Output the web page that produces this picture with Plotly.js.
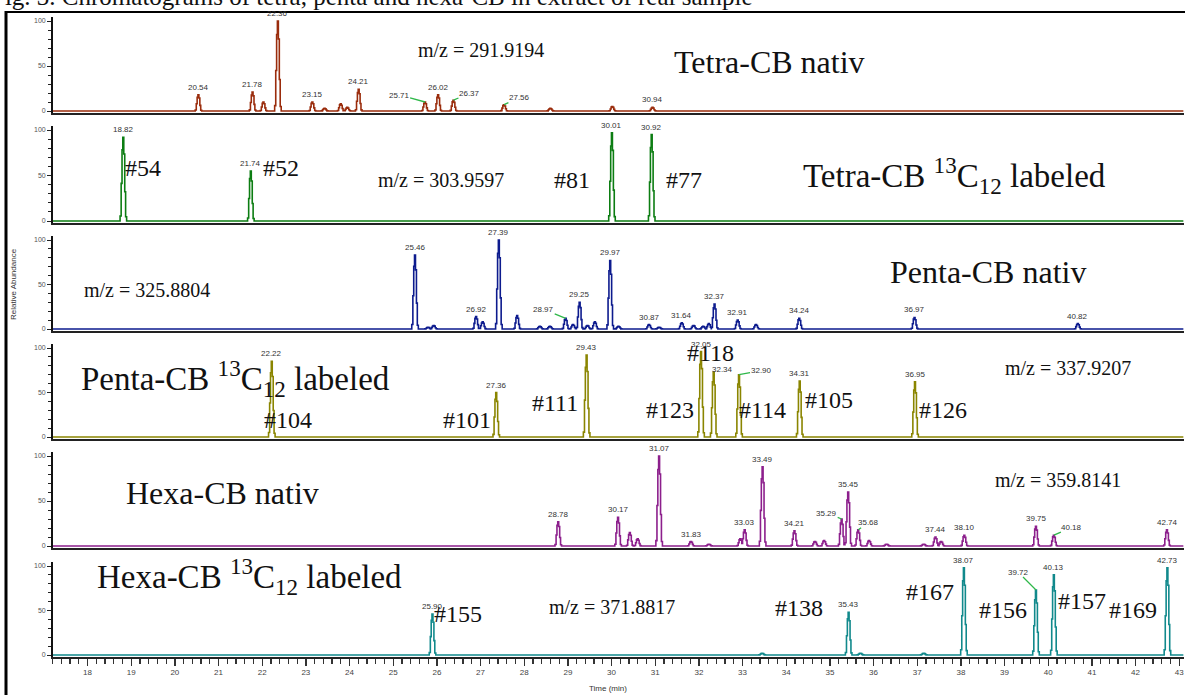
<!DOCTYPE html>
<html><head><meta charset="utf-8">
<script src="https://cdn.plot.ly/plotly-3.0.1.min.js"></script>
<style>html,body{margin:0;padding:0;background:#fff}#chart{width:1185px;height:695px}</style>
</head><body><div id="chart"></div>
<script>
// ---------------- DATA (retention time in min, relative abundance %) ----------------
const tetraNativRT = [20.54, 21.78, 22.03, 22.36, 23.15, 23.43, 23.80, 23.95, 24.21, 25.73, 26.03, 26.38, 27.54, 28.60, 30.02, 30.94];
const tetraNativH  = [18, 21, 10, 100, 10, 3, 8, 4, 24, 10, 18, 12, 7, 3, 5, 4];

const tetraLabRT = [18.82, 21.74, 30.01, 30.92];
const tetraLabH  = [92, 55, 97, 95];

const pentaNativRT = [25.50, 25.80, 25.93, 26.90, 27.05, 27.42, 27.84, 28.36, 28.59, 28.95, 29.12, 29.27, 29.45, 29.62, 29.97, 30.16, 30.86, 31.09, 31.61, 31.88, 32.10, 32.23, 32.36, 32.89, 33.31, 34.30, 36.94, 40.68];
const pentaNativH  = [83, 2, 4, 14, 8, 100, 15, 3, 3, 12, 5, 30, 4, 8, 77, 3, 5, 2, 7, 4, 3, 6, 28, 10, 5, 12, 13, 6];

const pentaLabRT = [22.22, 27.36, 29.43, 32.05, 32.34, 32.92, 34.31, 36.95];
const pentaLabH  = [85, 50, 92, 96, 73, 70, 63, 62];

const hexaNativRT = [28.78, 30.15, 30.42, 30.60, 31.09, 31.82, 32.23, 32.95, 33.05, 33.46, 34.19, 34.66, 34.87, 35.27, 35.42, 35.65, 35.90, 36.30, 37.15, 37.42, 37.55, 38.08, 39.72, 40.13, 42.72];
const hexaNativH  = [27, 32, 15, 8, 100, 5, 2, 8, 18, 88, 17, 5, 6, 30, 60, 18, 6, 2, 2, 10, 5, 12, 22, 12, 18];

const hexaLabRT = [25.90, 33.45, 35.43, 35.70, 37.15, 38.07, 39.72, 40.13, 42.73];
const hexaLabH  = [46, 2, 48, 2, 2, 98, 73, 90, 98];

// peak labels: [text, rt, height, dxPx, dyPx]  (dx/dy given => green leader line)
const tetraNativLabels = [["20.54",20.54,18],["21.78",21.78,21],["22.36",22.36,100],["23.15",23.15,10],["24.21",24.21,24],["25.71",25.73,10,-26,-7],["26.02",26.03,18],["26.37",26.38,12,16,-7],["27.56",27.54,7,15,-7],["30.94",30.94,4]];
const tetraLabLabels = [["18.82",18.82,92],["21.74",21.74,55],["30.01",30.01,97],["30.92",30.92,95]];
const pentaNativLabels = [["25.46",25.50,83],["26.92",26.90,14],["27.39",27.42,100],["28.97",28.95,12,-22,-9],["29.25",29.27,30],["29.97",29.97,77],["30.87",30.86,5],["31.64",31.61,7],["32.37",32.36,28],["32.91",32.89,10],["34.24",34.30,12],["36.97",36.94,13],["40.82",40.68,6]];
const pentaLabLabels = [["22.22",22.22,85],["27.36",27.36,50],["29.43",29.43,92],["32.05",32.05,96],["32.34",32.34,73,9,-3],["32.90",32.92,70,22,-4],["34.31",34.31,63],["36.95",36.95,62]];
const hexaNativLabels = [["28.78",28.78,27],["30.17",30.15,32],["31.07",31.09,100],["31.83",31.82,5],["33.03",33.05,18],["33.49",33.46,88],["34.21",34.19,17],["35.29",35.27,30,-15,-6],["35.45",35.42,60],["35.68",35.65,18,10,-7],["37.44",37.42,10],["38.10",38.08,12],["39.75",39.72,22],["40.18",40.13,12,18,-8],["42.74",42.72,18]];
const hexaLabLabels = [["25.90",25.90,46],["35.43",35.43,48],["38.07",38.07,98],["39.72",39.72,73,-18,-18],["40.13",40.13,90],["42.73",42.73,98]];

const xTickLabels = ["18","19","20","21","22","23","24","25","26","27","28","29","30","31","32","33","34","35","36","37","38","39","40","41","42","43"];

// ---------------- BUILD ----------------
const W = 1185, H = 695;
const X0 = 17.2, X1 = 43.1;
const px = x => x / W, py = y => 1 - y / H;

const STEP_OFF = [-0.075, -0.05, -0.03, -0.012, 0.01, 0.032, 0.052, 0.075];
const STEP_FAC = [0.06, 0.45, 0.85, 1.0, 0.8, 0.35, 0.05, 0];
function profile(rts, hs) {
  const bps = new Set([X0, X1]);
  rts.forEach(r => STEP_OFF.forEach(o => bps.add(+(r + o).toFixed(4))));
  const xs = [...bps].sort((a, b) => a - b);
  const ys = xs.map(x => {
    let m = 0;
    rts.forEach((r, i) => {
      const d = x - r;
      if (d >= STEP_OFF[0] - 1e-9 && d < STEP_OFF[STEP_OFF.length - 1] - 1e-9) {
        let f = 0;
        for (let j = 0; j < STEP_OFF.length; j++) if (d >= STEP_OFF[j] - 1e-9) f = STEP_FAC[j];
        m = Math.max(m, f * hs[i]);
      }
    });
    return m;
  });
  return { xs, ys };
}

const panels = [
  { rt: tetraNativRT, h: tetraNativH, lab: tetraNativLabels, color: '#9a2c0c', top: 21, base: 111 },
  { rt: tetraLabRT,   h: tetraLabH,   lab: tetraLabLabels,   color: '#0c7d12', top: 130, base: 221 },
  { rt: pentaNativRT, h: pentaNativH, lab: pentaNativLabels, color: '#0d1b8e', top: 240, base: 329 },
  { rt: pentaLabRT,   h: pentaLabH,   lab: pentaLabLabels,   color: '#8a8500', top: 348, base: 437 },
  { rt: hexaNativRT,  h: hexaNativH,  lab: hexaNativLabels,  color: '#8c1f8c', top: 456, base: 546 },
  { rt: hexaLabRT,    h: hexaLabH,    lab: hexaLabLabels,    color: '#11898c', top: 566, base: 655 }
];

const traces = [];
const layout = {
  width: W, height: H, margin: { l: 0, r: 0, t: 0, b: 0 },
  paper_bgcolor: '#fff', plot_bgcolor: 'rgba(0,0,0,0)',
  showlegend: false, annotations: [], shapes: [],
  font: { family: 'Arial, Liberation Sans, sans-serif' }
};
const xDom = [52.6 / W, 1183.6 / W];

panels.forEach((p, i) => {
  const k = i + 1, sfx = k === 1 ? '' : String(k);
  const pr = profile(p.rt, p.h);
  traces.push({ x: pr.xs, y: pr.ys, type: 'scatter', mode: 'lines', line: { color: p.color, width: 1.6, shape: 'hv' },
    xaxis: 'x' + sfx, yaxis: 'y' + sfx, hoverinfo: 'skip' });
  const s = (p.base - p.top) / 100;
  const topPx = p.top - 4 * s, botPx = p.base + 2 * s;
  layout['yaxis' + sfx] = {
    domain: [py(botPx), py(topPx)], range: [-2, 104], anchor: 'x' + sfx,
    tickmode: 'linear', tick0: 0, dtick: 50, ticks: 'outside', ticklen: 4, tickwidth: 1, tickcolor: '#222',
    showline: true, linecolor: '#111', linewidth: 1.5, showgrid: false, zeroline: false,
    tickfont: { size: 7, color: '#555', family: 'Arial' },
    minor: { tickmode: 'linear', tick0: 0, dtick: 10, ticks: 'outside', ticklen: 3, tickcolor: '#222', showgrid: false },
    fixedrange: true
  };
  const last = k === 6;
  const xa = {
    domain: xDom, range: [X0, X1], anchor: 'y' + sfx, showgrid: false, zeroline: false,
    showline: true, linecolor: '#222', linewidth: 1.8,
    showticklabels: last, ticks: last ? 'outside' : '', fixedrange: true
  };
  if (last) Object.assign(xa, {
    ticklen: 7, tickwidth: 1.3, tickcolor: '#333',
    tickmode: 'array', tickvals: xTickLabels.map(Number), ticktext: xTickLabels,
    tickfont: { size: 8, color: '#444', family: 'Arial' },
    minor: { tickmode: 'linear', tick0: 0, dtick: 0.2, ticks: 'outside', ticklen: 5, tickwidth: 1.2, tickcolor: '#333', showgrid: false }
  });
  if (k > 1) xa.matches = 'x';
  layout['xaxis' + sfx] = xa;
  p.lab.forEach(l => {
    const lead = l.length > 3;
    const a = { x: l[1], y: l[2], xref: 'x' + sfx, yref: 'y' + sfx, text: l[0],
      font: { size: 8, color: '#333', family: 'Arial' } };
    if (lead) {
      Object.assign(a, { showarrow: true, arrowhead: 0, arrowwidth: 1.3, arrowcolor: '#2fb84a', ax: l[3], ay: l[4], standoff: 0, borderpad: 0 });
    } else {
      Object.assign(a, { showarrow: false, yanchor: 'bottom', yshift: 1 });
    }
    layout.annotations.push(a);
  });
});

// big texts: [text, centerXpx, centerYpx, size]
const SERIF = 'Liberation Serif, Times New Roman, serif';
const bigTexts = [
  ["m/z = 291.9194", 481, 50, 20], ["Tetra-CB nativ", 769, 62, 32],
  ["#54", 143, 168, 24], ["#52", 281, 168, 24], ["m/z = 303.9597", 441, 180, 20], ["#81", 572, 180, 24], ["#77", 684, 180, 24],
  ["Tetra-CB <sup>13</sup>C<sub>12</sub> labeled", 954, 175, 33],
  ["m/z = 325.8804", 147, 290, 20], ["Penta-CB nativ", 988, 272, 32],
  ["Penta-CB <sup>13</sup>C<sub>12</sub> labeled", 235, 378, 33],
  ["#104", 288, 420, 24], ["#101", 467, 420, 24], ["#111", 555, 403, 24], ["#123", 670, 410, 24], ["#118", 710, 353, 24],
  ["#114", 762, 410, 24], ["#105", 829, 400, 24], ["#126", 943, 410, 24], ["m/z = 337.9207", 1068, 368, 20],
  ["Hexa-CB nativ", 222, 493, 32], ["m/z = 359.8141", 1058, 480, 20],
  ["Hexa-CB <sup>13</sup>C<sub>12</sub> labeled", 249, 576, 33],
  ["#155", 458, 614, 24], ["m/z = 371.8817", 612, 607, 20], ["#138", 799, 608, 24], ["#167", 930, 592, 24],
  ["#156", 1003, 610, 24], ["#157", 1082, 601, 24], ["#169", 1133, 610, 24]
];
bigTexts.forEach(t => layout.annotations.push({
  xref: 'paper', yref: 'paper', x: px(t[1]), y: py(t[2]), xanchor: 'center', yanchor: 'middle',
  text: t[0], showarrow: false, font: { family: SERIF, size: t[3], color: '#111' }
}));

// axis titles and caption
layout.annotations.push({ xref: 'paper', yref: 'paper', x: px(13), y: py(284), text: 'Relative Abundance', textangle: -90,
  showarrow: false, font: { size: 8, color: '#333', family: 'Arial' }, xanchor: 'center', yanchor: 'middle' });
layout.annotations.push({ xref: 'paper', yref: 'paper', x: px(608), y: py(688), text: 'Time (min)',
  showarrow: false, font: { size: 8, color: '#333', family: 'Arial' }, xanchor: 'center', yanchor: 'middle' });
layout.annotations.push({ xref: 'paper', yref: 'paper', x: px(-11), y: py(12), xanchor: 'left', yanchor: 'bottom',
  text: 'Fig. 3. Chromatograms of tetra, penta and hexa-CB in extract of real sample', showarrow: false,
  font: { family: SERIF, size: 25, color: '#111' } });

// frame
layout.shapes.push({ type: 'line', xref: 'paper', yref: 'paper', x0: px(6), x1: px(6), y0: py(695), y1: py(11), line: { color: '#000', width: 3 } });
layout.shapes.push({ type: 'line', xref: 'paper', yref: 'paper', x0: px(5), x1: px(1185), y0: py(12), y1: py(12), line: { color: '#000', width: 2 } });

Plotly.newPlot('chart', traces, layout, { staticPlot: true, displayModeBar: false });
</script>
</body></html>
